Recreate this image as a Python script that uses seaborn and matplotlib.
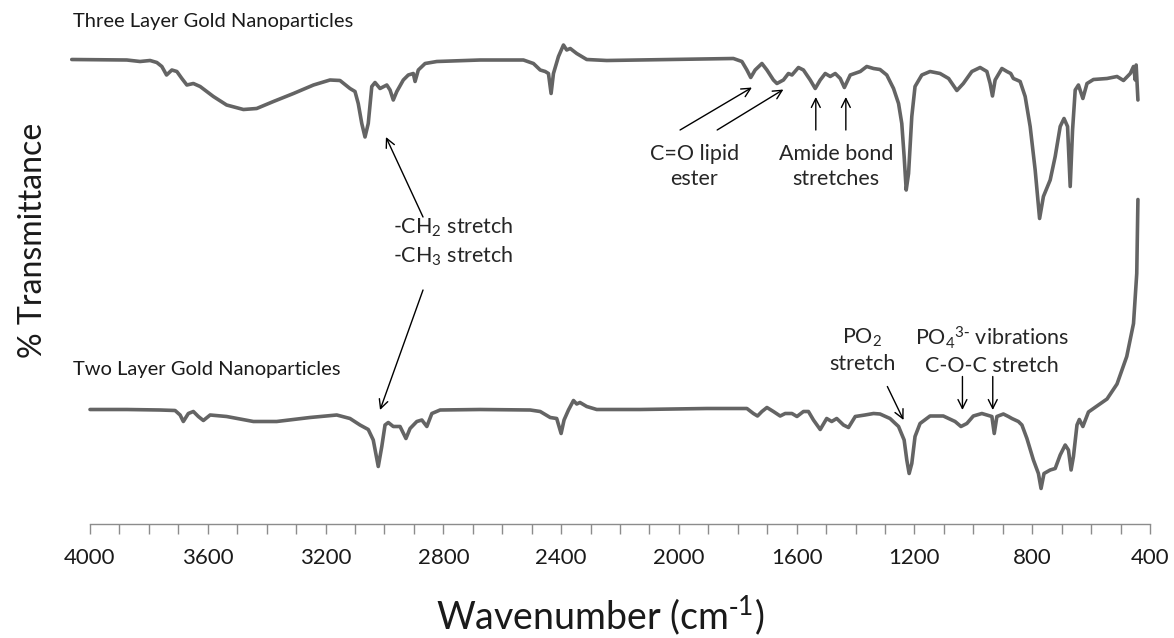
import numpy as np
import pandas as pd
import matplotlib
matplotlib.use("Agg")
import matplotlib.pyplot as plt
import seaborn as sns

# FTIR spectra (wavenumber in cm-1, arbitrary %T)
three_wn = [4062, 3875, 3830, 3796, 3773, 3756, 3740, 3722, 3705, 3688, 3671, 3649, 3626,
            3581, 3536, 3479, 3434, 3377, 3309, 3241, 3185, 3151, 3117, 3100, 3089, 3077,
            3066, 3055, 3043, 3032, 3015, 2992, 2981, 2970, 2958, 2936, 2919, 2902, 2896,
            2885, 2862, 2822, 2675, 2528, 2494, 2471, 2454, 2443, 2434, 2426, 2409, 2392,
            2381, 2369, 2347, 2313, 2245, 2019, 1815, 1786, 1769, 1756, 1741, 1718, 1701,
            1679, 1667, 1645, 1628, 1616, 1594, 1577, 1554, 1537, 1520, 1503, 1486, 1469,
            1452, 1438, 1418, 1384, 1362, 1339, 1317, 1294, 1271, 1254, 1243, 1235, 1228,
            1220, 1209, 1198, 1175, 1147, 1113, 1084, 1056, 1034, 1005, 977, 954, 943, 935,
            926, 903, 886, 873, 864, 852, 841, 824, 807, 790, 775, 762, 739, 722, 705, 692,
            680, 671, 663, 654, 643, 628, 614, 592, 546, 512, 490, 467, 456, 450, 447, 441]
three_t = [92.9, 92.8, 92.5, 92.7, 92.3, 91.5, 89.8, 90.8, 90.5, 89.1, 87.8, 88.1, 87.5,
           85.5, 83.8, 82.9, 83.1, 84.5, 86.1, 87.8, 88.8, 88.7, 87.1, 86.5, 84.1, 80.1,
           77.4, 80.1, 87.5, 88.3, 87.1, 87.8, 86.8, 84.8, 86.5, 88.8, 89.8, 90.1, 88.5,
           90.8, 92.1, 92.5, 92.8, 92.8, 92.1, 90.8, 90.5, 90.1, 86.1, 90.1, 93.5, 95.8,
           94.8, 95.1, 94.1, 92.9, 92.7, 92.9, 93.1, 92.5, 90.8, 89.3, 90.8, 92.1, 90.8,
           88.8, 88.1, 88.8, 90.1, 89.8, 91.3, 90.8, 88.8, 87.1, 88.8, 90.1, 89.5, 90.1,
           89.1, 87.3, 89.8, 90.5, 91.5, 91.1, 90.9, 89.8, 87.1, 84.1, 80.1, 73.5, 66.8,
           70.1, 81.5, 87.5, 89.8, 90.5, 90.1, 89.1, 86.7, 88.1, 90.5, 91.3, 90.5, 88.1, 85.6,
           88.8, 91.1, 90.5, 90.1, 89.1, 88.8, 88.5, 85.5, 79.5, 70.8, 61.1, 65.5, 68.8, 73.5,
           79.5, 81.1, 79.5, 67.5, 78.8, 86.8, 87.8, 85.1, 88.1, 88.9, 89.1, 89.5, 88.7,
           90.1, 91.5, 88.8, 91.8, 84.8]

two_wn = [4000, 3875, 3762, 3711, 3694, 3683, 3666, 3649, 3632, 3615, 3592, 3536, 3445,
          3366, 3253, 3162, 3117, 3083, 3055, 3038, 3021, 3009, 2998, 2987, 2970, 2947,
          2927, 2913, 2890, 2873, 2856, 2839, 2811, 2675, 2505, 2471, 2437, 2415, 2400,
          2390, 2375, 2358, 2347, 2336, 2313, 2279, 2132, 1905, 1769, 1747, 1733, 1718,
          1701, 1679, 1656, 1639, 1616, 1599, 1577, 1560, 1543, 1520, 1498, 1481, 1464,
          1441, 1424, 1401, 1368, 1339, 1317, 1283, 1254, 1235, 1226, 1218, 1209, 1198,
          1181, 1147, 1102, 1062, 1042, 1022, 1000, 971, 937, 929, 920, 898, 881, 869, 858,
          847, 835, 818, 796, 779, 770, 760, 739, 722, 705, 688, 677, 668, 660, 648, 640,
          628, 609, 580, 546, 512, 479, 456, 445, 441]
two_t = [22.9, 22.9, 22.8, 22.7, 21.8, 20.5, 22.1, 22.5, 21.5, 20.7, 21.8, 21.5, 20.5,
         20.5, 21.3, 21.8, 21.1, 19.8, 18.9, 16.8, 11.5, 15.5, 19.8, 20.3, 19.5, 19.5,
         17.1, 19.1, 20.5, 20.8, 19.5, 22.1, 22.8, 22.9, 22.8, 22.5, 21.3, 21.1, 18.1,
         20.8, 22.8, 24.7, 24.0, 24.3, 23.5, 22.9, 22.9, 23.1, 23.1, 22.1, 21.6, 22.5,
         23.3, 22.5, 21.6, 22.1, 22.1, 21.5, 22.5, 22.5, 20.8, 18.9, 21.1, 20.5, 21.1,
         19.8, 19.3, 21.5, 21.8, 22.1, 22.0, 21.1, 19.5, 16.8, 12.8, 10.1, 12.1, 17.5,
         20.1, 21.6, 21.6, 20.5, 19.5, 20.1, 21.6, 22.1, 21.5, 18.1, 21.5, 22.0, 21.5, 21.1,
         20.8, 20.5, 19.8, 17.1, 12.8, 10.1, 7.1, 10.1, 10.8, 11.1, 13.8, 15.8, 14.8, 10.8,
         13.5, 19.8, 20.9, 19.5, 22.4, 23.6, 25.0, 28.0, 33.5, 40.1, 50.1, 64.9]

x_ticks = [4000, 3600, 3200, 2800, 2400, 2000, 1600, 1200, 800, 400]

df = pd.concat([
    pd.DataFrame({"wn": three_wn, "T": three_t, "sample": "three"}),
    pd.DataFrame({"wn": two_wn, "T": two_t, "sample": "two"}),
])

sns.set_style("white")
plt.rcParams["font.family"] = ["Lato", "DejaVu Sans"]
plt.rcParams["mathtext.default"] = "regular"

fig = plt.figure(figsize=(11.74, 6.38), dpi=100)
ax = fig.add_axes([90 / 1174, 114 / 638, 1060 / 1174, 504 / 638])

line_col = "#646464"
sns.lineplot(data=df, x="wn", y="T", units="sample", estimator=None, sort=False,
             color=line_col, linewidth=2.6, ax=ax, legend=False)
for ln in ax.lines:
    ln.set_clip_on(False)
    ln.set_solid_joinstyle("round")

ax.set_xlim(4000, 400)
ax.set_ylim(0, 100.8)
ax.set_xticks(x_ticks)
ax.set_xticks(np.arange(400, 4001, 100), minor=True)
ax.set_yticks([])
ax.set_xlabel("")
ax.set_ylabel("")
sns.despine(ax=ax, left=True, top=True, right=True)
ax.spines["bottom"].set_color("#8c8c8c")
ax.spines["bottom"].set_linewidth(1.0)
ax.tick_params(axis="x", which="both", direction="out", length=7, width=1,
               color="#8c8c8c", pad=10, labelsize=16, labelcolor="#1a1a1a")
ax.tick_params(axis="x", which="both", bottom=True)

# axis titles and series labels
fig.text(600 / 1174, 1 - 629 / 638, r"Wavenumber (cm$^{\text{-}1}$)", ha="center",
         va="baseline", fontsize=27, color="#1a1a1a")
fig.text(33 / 1174, 1 - 240 / 638, "% Transmittance", ha="center", va="center",
         rotation=90, fontsize=23, color="#1a1a1a")
fig.text(73 / 1174, 1 - 22 / 638, "Three Layer Gold Nanoparticles", ha="left",
         va="center", fontsize=14.5, color="#1a1a1a")
fig.text(73 / 1174, 1 - 370 / 638, "Two Layer Gold Nanoparticles", ha="left",
         va="center", fontsize=14.5, color="#1a1a1a")

arrow = dict(arrowstyle="->", color="black", lw=1.0, shrinkA=0, shrinkB=0,
             mutation_scale=16)
ann_fs = 15.5

# -CH2 / -CH3
ax.text(2971, 56.5, "-CH$_2$ stretch\n-CH$_3$ stretch", ha="left", va="center",
        fontsize=ann_fs, linespacing=1.3)
ax.annotate("", xy=(2995, 77.4), xytext=(2869, 61.4), arrowprops=arrow)
ax.annotate("", xy=(3015, 22.8), xytext=(2869, 46.8), arrowprops=arrow)

# C=O lipid ester
ax.text(1948, 71.5, "C=O lipid\nester", ha="center", va="center",
        fontsize=ann_fs, linespacing=1.3)
ax.annotate("", xy=(1752, 87.3), xytext=(1996, 78.8), arrowprops=arrow)
ax.annotate("", xy=(1645, 86.9), xytext=(1870, 78.8), arrowprops=arrow)

# Amide bond stretches
ax.text(1466, 71.5, "Amide bond\nstretches", ha="center", va="center",
        fontsize=ann_fs, linespacing=1.3)
ax.annotate("", xy=(1535, 85.4), xytext=(1535, 78.8), arrowprops=arrow)
ax.annotate("", xy=(1433, 85.4), xytext=(1433, 78.8), arrowprops=arrow)

# PO2 stretch
ax.text(1377, 34.8, "PO$_2$\nstretch", ha="center", va="center",
        fontsize=ann_fs, linespacing=1.3)
ax.annotate("", xy=(1237, 20.8), xytext=(1292, 27.5), arrowprops=arrow)

# PO4 / C-O-C
ax.text(936, 34.8, "PO$_4$$^{3\\text{-}}$ vibrations\nC-O-C stretch", ha="center",
        va="center", fontsize=ann_fs, linespacing=1.3)
ax.annotate("", xy=(1037, 22.8), xytext=(1037, 29.5), arrowprops=arrow)
ax.annotate("", xy=(934, 22.8), xytext=(934, 29.5), arrowprops=arrow)

fig.savefig("out.png", dpi=100)
